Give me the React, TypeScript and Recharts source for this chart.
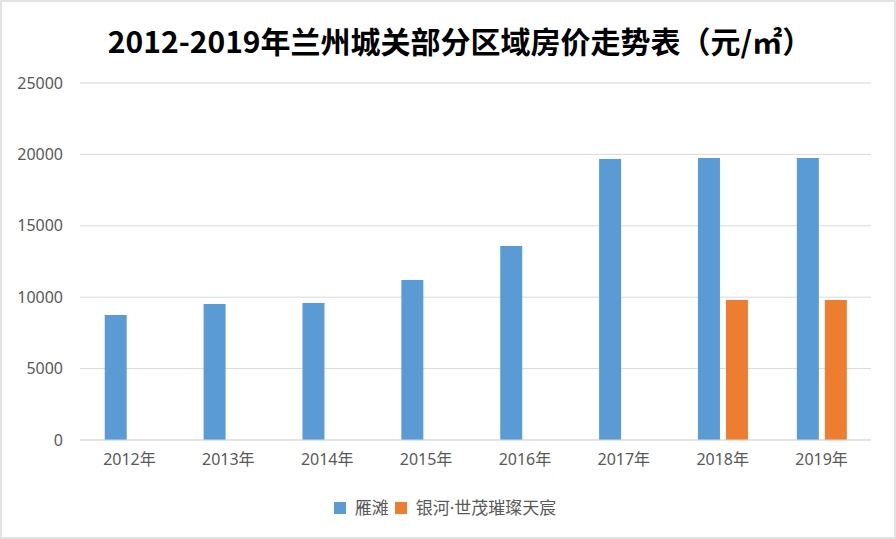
import React from 'react';
import { BarChart, Bar, XAxis, YAxis, CartesianGrid } from 'recharts';

// 年份
const years = ['2012年', '2013年', '2014年', '2015年', '2016年', '2017年', '2018年', '2019年'];
// 雁滩 房价
const yantan = [8750, 9520, 9600, 11200, 13580, 19680, 19750, 19750];
// 银河·世茂璀璨天宸 房价
const yinhe = [null, null, null, null, null, null, 9800, 9800];
const yTicks = [0, 5000, 10000, 15000, 20000, 25000];

const series = [
  { key: '雁滩', color: '#5b9bd5' },
  { key: '银河·世茂璀璨天宸', color: '#ed7d31' },
];

const chartData = years.map((year, i) => ({
  year,
  雁滩: yantan[i],
  '银河·世茂璀璨天宸': yinhe[i],
}));

const FONT = '"Noto Sans", "Noto Sans CJK SC", sans-serif';

const App: React.FC = () => {
  return (
    <div
      style={{
        position: 'absolute',
        left: 0,
        top: 0,
        width: 896,
        height: 539,
        background: '#fff',
        border: '2px solid #e3e3e3',
        boxSizing: 'border-box',
        fontFamily: FONT,
      }}
    >
      <div
        style={{
          position: 'absolute',
          left: 10,
          top: 16,
          width: 896,
          textAlign: 'center',
          fontSize: 30,
          fontWeight: 700,
          color: '#000',
          lineHeight: '44px',
          fontFamily: '"Noto Sans CJK SC", sans-serif',
        }}
      >
        2012-2019年兰州城关部分区域房价走势表（元/㎡）
      </div>
      <div style={{ position: 'absolute', left: -2, top: -2 }}>
        <BarChart
          width={896}
          height={539}
          data={chartData}
          margin={{ top: 83, right: 25, bottom: 69, left: 0 }}
          barCategoryGap="25%"
          barGap={6}
        >
          <CartesianGrid vertical={false} stroke="#d9d9d9" />
          <XAxis
            dataKey="year"
            axisLine={{ stroke: '#d9d9d9' }}
            tickLine={false}
            tickSize={0}
            tickMargin={14}
            tick={{ fill: '#595959', fontSize: 16, fontFamily: FONT }}
            height={30}
          />
          <YAxis
            width={80}
            domain={[0, 25000]}
            ticks={yTicks}
            axisLine={false}
            tickLine={false}
            tickSize={0}
            tickMargin={17}
            tick={{ fill: '#595959', fontSize: 16, fontFamily: FONT }}
          />
          {series.map((s) => (
            <Bar key={s.key} dataKey={s.key} fill={s.color} isAnimationActive={false} />
          ))}
        </BarChart>
      </div>
      <div
        style={{
          position: 'absolute',
          left: 0,
          top: 495,
          width: 892,
          display: 'flex',
          justifyContent: 'center',
          alignItems: 'center',
          fontSize: 17,
          color: '#595959',
          lineHeight: '22px',
        }}
      >
        {series.map((s) => (
          <span key={s.key} style={{ display: 'flex', alignItems: 'center', marginRight: 6 }}>
            <span style={{ width: 12, height: 12, background: s.color, marginRight: 9, display: 'inline-block' }} />
            {s.key}
          </span>
        ))}
      </div>
    </div>
  );
};

export default App;
